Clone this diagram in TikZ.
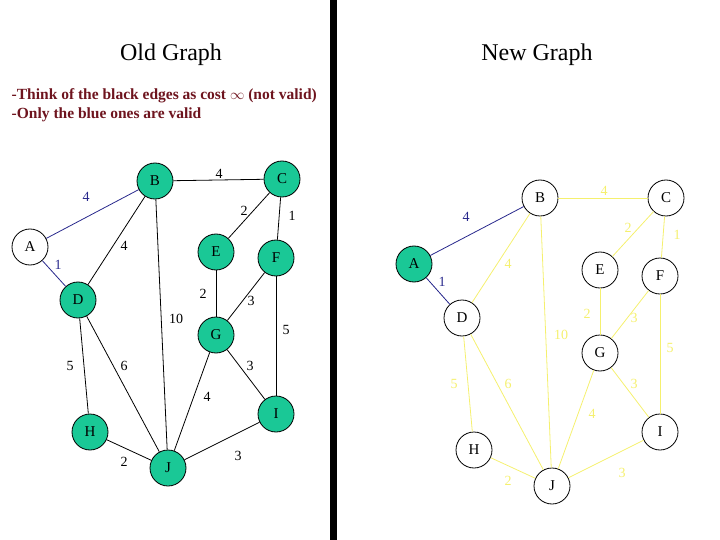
\documentclass[tikz,border=0pt]{standalone}
\usepackage{fontspec}
\setmainfont{Liberation Serif}
\definecolor{vgreen}{RGB}{26,200,150}
\definecolor{eblue}{RGB}{40,40,140}
\definecolor{eyellow}{RGB}{245,240,110}
\definecolor{tred}{RGB}{110,20,30}
\begin{document}
\begin{tikzpicture}[x=1pt,y=-1pt,line width=.8pt,
	vtx/.style={circle,draw=black,minimum size=36pt,inner sep=0pt,font=\fontsize{15}{15}\selectfont},
	wt/.style={font=\fontsize{14}{14}\selectfont,inner sep=0pt},
	title/.style={font=\fontsize{24}{24}\selectfont},
	note/.style={anchor=west,text=tred,font=\fontsize{15.5}{16}\selectfont\bfseries}]
	\useasboundingbox (0,0) rectangle (720,540);
	\fill (330,0) rectangle (337,540);
	\node[title] (old) at (171,55) {Old Graph};
	\node[title] (new) at (537,55) {New Graph};
	\node[note] (n1) at (8,96) {-Think of the black edges as cost $\infty$ (not valid)};
	\node[note] (n2) at (8,115) {-Only the blue ones are valid};
	% old graph
	\node[vtx,fill=white] (A) at (30,247) {A};
	\foreach \n/\x/\y in {B/155/181,C/282/179,D/78/300,E/216/252,F/276/258,G/216/335,H/90/432,I/276/414,J/168/468}
		\node[vtx,fill=vgreen] (\n) at (\x,\y) {\n};
	\foreach \a/\b/\w/\lx/\ly in {A/B/4/86/197,A/D/1/58/265}{
		\draw[eblue] (\a)--(\b); \node[wt,text=eblue] at (\lx,\ly) {\w};}
	\foreach \a/\b/\w/\lx/\ly in {B/C/4/219/174,C/E/2/244/211,C/F/1/292/216,B/D/4/124/246,E/G/2/203/294,F/G/3/251/301,B/J/10/176/319,F/I/5/286/330,D/H/5/70/366,D/J/6/124/366,G/I/3/250/366,G/J/4/207/397,H/J/2/124/462,J/I/3/238/456}{
		\draw (\a)--(\b); \node[wt] at (\lx,\ly) {\w};}
	% new graph
	\node[vtx,fill=vgreen] (rA) at (414,264) {A};
	\foreach \n/\x/\y in {B/540/198,C/666/198,D/462/318,E/600/270,F/660/276,G/600/353,H/474/450,I/660/432,J/552/486}
		\node[vtx,fill=white] (r\n) at (\x,\y) {\n};
	\foreach \a/\b/\w/\lx/\ly in {A/B/4/466/217,A/D/1/442/282}{
		\draw[eblue] (r\a)--(r\b); \node[wt,text=eblue] at (\lx,\ly) {\w};}
	\foreach \a/\b/\w/\lx/\ly in {B/C/4/604/191,C/E/2/628/228,C/F/1/677/235,B/D/4/508/264,E/G/2/587/314,F/G/3/634/318,B/J/10/561/335,F/I/5/670/348,D/H/5/454/384,D/J/6/508/384,G/I/3/634/384,G/J/4/592/414,H/J/2/508/481,J/I/3/622/473}{
		\draw[eyellow] (r\a)--(r\b); \node[wt,text=eyellow] at (\lx,\ly) {\w};}
\end{tikzpicture}
\end{document}
